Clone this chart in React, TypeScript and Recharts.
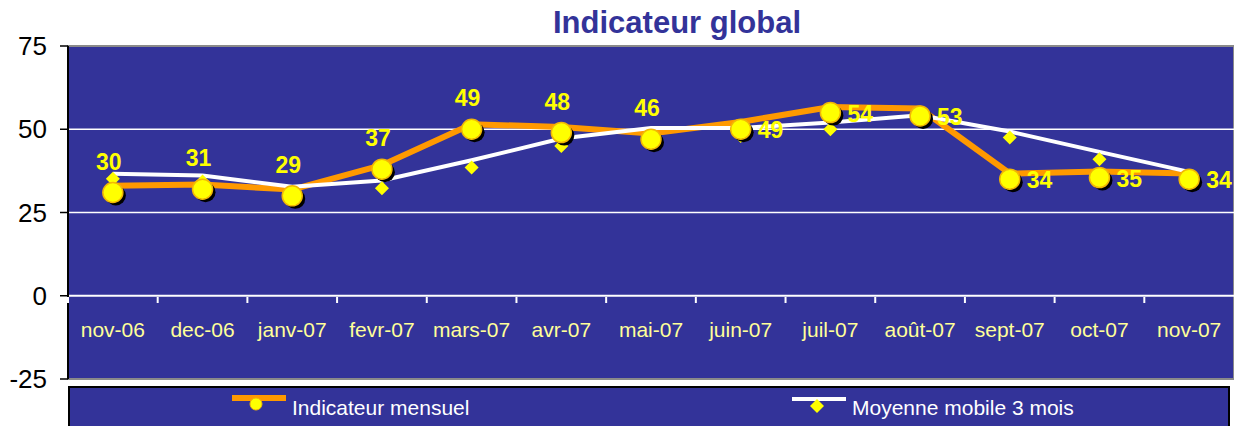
import React from "react";
import {
  ComposedChart,
  Line,
  XAxis,
  YAxis,
  ReferenceArea,
  ReferenceLine,
  LabelList,
  Legend,
} from "recharts";

// months on the x axis
const months = [
  "nov-06", "dec-06", "janv-07", "fevr-07", "mars-07", "avr-07", "mai-07",
  "juin-07", "juil-07", "août-07", "sept-07", "oct-07", "nov-07",
];

// displayed values of the monthly indicator
const mensuelLabels = [30, 31, 29, 37, 49, 48, 46, 49, 54, 53, 34, 35, 34];
// where the yellow circles sit
const mensuelPoints = [31, 32, 30, 38, 50, 49, 47, 50, 55, 54, 35, 35.5, 35];
// the orange line is drawn a little above its markers in the original
const mensuelLine = [33, 33.4, 31.9, 39.2, 51.5, 50.7, 48.7, 52.2, 56.7, 56.2, 36.7, 37.3, 36.7];

// 3 month moving average: diamonds and white line
const moyennePoints = [35.1, 34.3, 30, 32.3, 38.5, 45, 47.7, 48, 50, 52.4, 47.5, 41, 34.5];
const moyenneLine = [36.6, 36.1, 32.7, 34.6, 40.7, 47.2, 50.4, 50.4, 52, 54.2, 49.3, 43.2, 37.2];

const yTicks = [-25, 0, 25, 50, 75];

const BLUE = "#333399";
const FONT = "Arial, 'Liberation Sans', sans-serif";
const RIGHT_LABELS_FROM = 7;

const data = months.map((month, i) => ({
  month,
  mensuel: mensuelPoints[i],
  mensuelLabel: mensuelLabels[i],
  mensuelLine: mensuelLine[i],
  moyenne: moyennePoints[i],
  moyenneLine: moyenneLine[i],
}));

const MonthTick = (props: any) => {
  const { x, y, payload, width } = props;
  const half = payload.offset || width / months.length / 2;
  return (
    <g>
      <line x1={x - half} x2={x - half} y1={y - 82} y2={y - 76} stroke="#fff" strokeWidth={2} />
      <text
        x={x}
        y={y - 49}
        dy="0.35em"
        textAnchor="middle"
        fill="#FFFF99"
        fontSize={21}
        fontFamily={FONT}
      >
        {payload.value}
      </text>
    </g>
  );
};

const CircleDot = (props: any) => {
  const { cx, cy, index } = props;
  if (cx == null || cy == null) return <g key={`c-${index}`} />;
  return (
    <g key={`c-${index}`}>
      <circle cx={cx + 3} cy={cy + 3} r={10} fill="#000" />
      <circle cx={cx} cy={cy} r={10} fill="#FFFF00" stroke="#F2B705" strokeWidth={1.5} />
    </g>
  );
};

const DiamondDot = (props: any) => {
  const { cx, cy, index } = props;
  if (cx == null || cy == null) return <g key={`d-${index}`} />;
  const s = 7;
  return (
    <polygon
      key={`d-${index}`}
      points={`${cx},${cy - s} ${cx + s},${cy} ${cx},${cy + s} ${cx - s},${cy}`}
      fill="#FFFF00"
    />
  );
};

const renderMensuelLabel = (props: any) => {
  const { x, y, value, index } = props;
  const onRight = index >= RIGHT_LABELS_FROM;
  return (
    <text
      key={`l-${index}`}
      x={onRight ? x + 17 : x - 4}
      y={onRight ? y + 1 : y - 31}
      dy="0.35em"
      textAnchor={onRight ? "start" : "middle"}
      fill="#FFFF00"
      fontWeight="bold"
      fontSize={23}
      fontFamily={FONT}
    >
      {value}
    </text>
  );
};

const LegendBox = () => (
  <div
    style={{
      width: 1162,
      height: 50,
      boxSizing: "border-box",
      border: "2px solid #000",
      background: BLUE,
      position: "relative",
    }}
  >
    <svg width={1162} height={50} style={{ position: "absolute", left: -2, top: -2 }}>
      <line x1={164} x2={218} y1={12} y2={12} stroke="#FF9900" strokeWidth={6} />
      <circle cx={188} cy={18} r={6} fill="#FFFF00" stroke="#F2B705" strokeWidth={1} />
      <text x={224} y={29} fill="#fff" fontSize={21} fontFamily={FONT}>
        Indicateur mensuel
      </text>
      <line x1={724} x2={778} y1={13} y2={13} stroke="#fff" strokeWidth={4} />
      <polygon points="749,13 756,20 749,27 742,20" fill="#FFFF00" />
      <text x={784} y={29} fill="#fff" fontSize={21} fontFamily={FONT}>
        Moyenne mobile 3 mois
      </text>
    </svg>
  </div>
);

export default function App() {
  return (
    <div
      style={{
        position: "absolute",
        left: 0,
        top: 0,
        width: 1234,
        height: 426,
        overflow: "hidden",
        background: "#fff",
      }}
    >
      <div
        style={{
          position: "absolute",
          left: 553,
          top: 7,
          fontFamily: FONT,
          fontWeight: "bold",
          fontSize: 31,
          lineHeight: "31px",
          color: BLUE,
          whiteSpace: "nowrap",
          zIndex: 2,
        }}
      >
        Indicateur global
      </div>
      <ComposedChart
        width={1234}
        height={426}
        data={data}
        margin={{ top: 46, right: 0, bottom: 7, left: 0 }}
      >
        <ReferenceArea
          y1={-25}
          y2={75}
          fill={BLUE}
          fillOpacity={1}
          stroke="#8a8a8a"
          strokeWidth={2}
          ifOverflow="visible"
        />
        <ReferenceLine y={50} stroke="#fff" strokeWidth={1.5} />
        <ReferenceLine y={25} stroke="#fff" strokeWidth={1.5} />
        <ReferenceLine y={0} stroke="#fff" strokeWidth={2} />
        <XAxis
          dataKey="month"
          scale="band"
          height={40}
          axisLine={false}
          tickLine={false}
          tickSize={0}
          tickMargin={0}
          interval={0}
          tick={<MonthTick />}
        />
        <YAxis
          width={68}
          domain={[-25, 75]}
          ticks={yTicks}
          interval={0}
          axisLine={{ stroke: "#000", strokeWidth: 2 }}
          tickLine={{ stroke: "#000", strokeWidth: 1.5 }}
          tickSize={8}
          tickMargin={13}
          tick={{ fill: "#000", fontSize: 26, fontFamily: FONT }}
        />
        <Legend
          verticalAlign="middle"
          align="center"
          layout="horizontal"
          content={<LegendBox />}
          wrapperStyle={{ top: 386, left: 68, width: 1162, height: 50 }}
        />
        <Line
          dataKey="mensuelLine"
          stroke="#FF9900"
          strokeWidth={6}
          dot={false}
          activeDot={false}
          isAnimationActive={false}
        />
        <Line
          dataKey="moyenneLine"
          stroke="#fff"
          strokeWidth={4}
          dot={false}
          activeDot={false}
          isAnimationActive={false}
        />
        <Line
          dataKey="moyenne"
          stroke="none"
          dot={<DiamondDot />}
          activeDot={false}
          isAnimationActive={false}
        />
        <Line
          dataKey="mensuel"
          stroke="none"
          dot={<CircleDot />}
          activeDot={false}
          isAnimationActive={false}
        >
          <LabelList dataKey="mensuelLabel" content={renderMensuelLabel} />
        </Line>
      </ComposedChart>
    </div>
  );
}
